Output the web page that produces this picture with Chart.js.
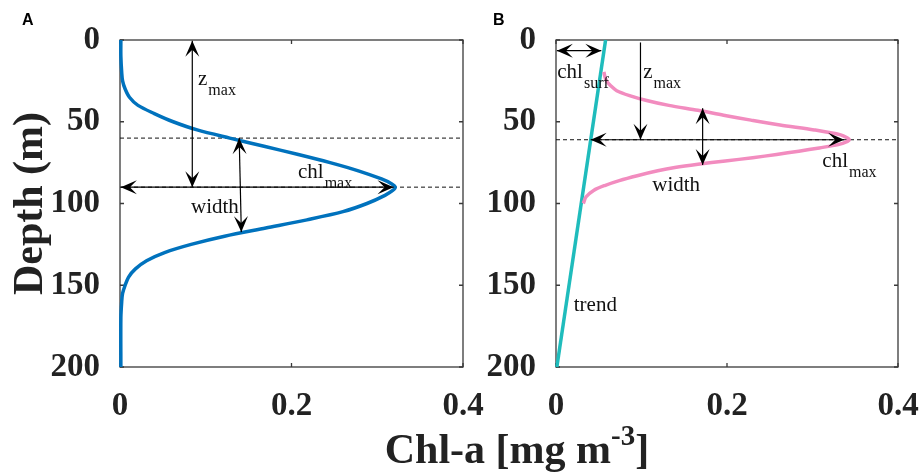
<!DOCTYPE html>
<html>
<head>
<meta charset="utf-8">
<script src="https://cdn.jsdelivr.net/npm/chart.js@4"></script>
<style>
  body { margin: 0; background: #fff; }
  #wrap { position: relative; width: 922px; height: 474px; overflow: hidden; background: #fff; }
  canvas { position: absolute; left: 0; top: 0; }
  .panel { position: absolute; font: bold 16px "Liberation Sans", Arial, sans-serif; line-height: 16px; color: #000; }
  #xtitle { position: absolute; left: 267px; width: 500px; top: 428px; text-align: center;
            font: bold 42px "Liberation Serif", "Times New Roman", serif; line-height: 42px; color: #222; }
  #xtitle sup { font-size: 29px; line-height: 0; vertical-align: 18px; }
</style>
</head>
<body>
<div id="wrap">
  <canvas id="chartA" width="922" height="474"></canvas>
  <canvas id="chartB" width="922" height="474"></canvas>
  <div class="panel" style="left:22px;top:12px">A</div>
  <div class="panel" style="left:493px;top:12px">B</div>
  <div id="xtitle">Chl-a [mg m<sup>-3</sup>]</div>
</div>
<script>
// tick labels
const xTicks = [0, 0.2, 0.4];
const xTickLabels = ['0', '0.2', '0.4'];
const yTicks = [0, 50, 100, 150, 200];
const yTickLabels = ['0', '50', '100', '150', '200'];

// Panel A: chl-a profile (depth in m, chl in mg m-3)
const depthA = [0, 10, 20, 25, 30, 35, 40, 45, 50, 55, 60, 65, 70, 75, 80, 85, 88, 90,
                92, 95, 100, 105, 110, 115, 120, 125, 130, 135, 140, 145, 150, 155, 160, 170, 200];
const chlA = [0.001, 0.001, 0.002, 0.003, 0.006, 0.011, 0.021, 0.040, 0.062, 0.090, 0.128, 0.168,
              0.208, 0.245, 0.278, 0.305, 0.317, 0.321,
              0.318, 0.309, 0.288, 0.260, 0.218, 0.170, 0.122, 0.083, 0.052, 0.031, 0.018, 0.010,
              0.006, 0.003, 0.002, 0.001, 0.001];

// Panel B: profile with trend
const depthB = [19.5, 22, 25, 28, 31, 34, 37, 40, 43, 46, 49, 52, 55, 58, 60, 61, 62, 64, 66, 68,
                70, 72, 74, 76, 78, 80, 83, 86, 89, 92, 96, 100];
const chlB = [0.056, 0.057, 0.059, 0.064, 0.071, 0.086, 0.106, 0.132, 0.166, 0.196, 0.228, 0.262,
              0.302, 0.333, 0.341, 0.343, 0.341, 0.330, 0.308, 0.284,
              0.258, 0.230, 0.198, 0.166, 0.139, 0.119, 0.095, 0.074, 0.057, 0.044, 0.035, 0.032];
const trendDepth = [0, 200];
const trendChl = [0.058, 0.001];

function pts(xs, ys) {
    return ys.map((d, i) => ({ x: xs[i], y: d }));
}

function arrowHead(ctx, x1, y1, x2, y2) {
    const ang = Math.atan2(y2 - y1, x2 - x1);
    ctx.save();
    ctx.translate(x2, y2);
    ctx.rotate(ang);
    ctx.beginPath();
    ctx.moveTo(0, 0);
    ctx.lineTo(-16, -7);
    ctx.lineTo(-9, 0);
    ctx.lineTo(-16, 7);
    ctx.closePath();
    ctx.fill();
    ctx.restore();
}

// box, inward ticks, dashed guides, arrows and labels
const overlay = {
    id: 'overlay',
    beforeDatasetsDraw(chart, args, opts) {
        const { ctx, chartArea: a, scales: { x, y } } = chart;
        ctx.save();
        ctx.strokeStyle = '#3a3a3a';
        ctx.lineWidth = 1.3;
        ctx.strokeRect(a.left, a.top, a.right - a.left, a.bottom - a.top);
        ctx.beginPath();
        xTicks.forEach(v => {
            const px = x.getPixelForValue(v);
            ctx.moveTo(px, a.top); ctx.lineTo(px, a.top + 4);
            ctx.moveTo(px, a.bottom); ctx.lineTo(px, a.bottom - 4);
        });
        yTicks.forEach(v => {
            const py = y.getPixelForValue(v);
            ctx.moveTo(a.left, py); ctx.lineTo(a.left + 4, py);
            ctx.moveTo(a.right, py); ctx.lineTo(a.right - 4, py);
        });
        ctx.stroke();
        ctx.setLineDash([4, 3]);
        ctx.strokeStyle = '#111';
        ctx.lineWidth = 1;
        opts.dashes.forEach(d => {
            const py = y.getPixelForValue(d);
            ctx.beginPath();
            ctx.moveTo(a.left, py);
            ctx.lineTo(a.right, py);
            ctx.stroke();
        });
        ctx.restore();
    },
    afterDatasetsDraw(chart, args, opts) {
        const { ctx, scales: { x, y } } = chart;
        ctx.save();
        ctx.strokeStyle = '#000';
        ctx.fillStyle = '#000';
        ctx.lineWidth = 1.2;
        opts.arrows.forEach(([v1, d1, v2, d2, heads]) => {
            const x1 = x.getPixelForValue(v1), y1 = y.getPixelForValue(d1);
            const x2 = x.getPixelForValue(v2), y2 = y.getPixelForValue(d2);
            ctx.beginPath();
            ctx.moveTo(x1, y1);
            ctx.lineTo(x2, y2);
            ctx.stroke();
            arrowHead(ctx, x1, y1, x2, y2);
            if (heads === 2) arrowHead(ctx, x2, y2, x1, y1);
        });
        ctx.fillStyle = '#111';
        ctx.textBaseline = 'alphabetic';
        opts.notes.forEach(([main, sub, v, d]) => {
            const px = x.getPixelForValue(v), py = y.getPixelForValue(d);
            ctx.font = '21px "Liberation Serif", "Times New Roman", serif';
            ctx.fillText(main, px, py);
            if (sub) {
                const w = ctx.measureText(main).width;
                ctx.font = '16px "Liberation Serif", "Times New Roman", serif';
                ctx.fillText(sub, px + w + 1, py + 10);
            }
        });
        ctx.restore();
    }
};

const tickFont = { family: '"Liberation Serif", "Times New Roman", serif', size: 33, weight: 'bold' };

function makeOptions(pad, showTitle, ann) {
    return {
        responsive: false,
        animation: false,
        layout: { padding: pad },
        plugins: { legend: { display: false }, tooltip: { enabled: false }, overlay: ann },
        scales: {
            x: {
                type: 'linear', min: 0, max: 0.4,
                grid: { display: false }, border: { display: false },
                afterBuildTicks: s => { s.ticks = xTicks.map(v => ({ value: v })); },
                afterFit: s => { s.height = 60; s.paddingLeft = 0; s.paddingRight = 0; },
                ticks: { font: tickFont, color: '#222', padding: 12, maxRotation: 0,
                         callback: (v, i) => xTickLabels[i] }
            },
            y: {
                type: 'linear', min: 0, max: 200, reverse: true,
                grid: { display: false }, border: { display: false },
                afterBuildTicks: s => { s.ticks = yTicks.map(v => ({ value: v })); },
                afterFit: s => { s.width = 120; s.paddingTop = 0; s.paddingBottom = 0; },
                ticks: { font: tickFont, color: '#222', padding: 12,
                         callback: (v, i) => yTickLabels[i] },
                title: { display: showTitle, text: 'Depth (m)', color: '#222',
                         font: { family: '"Liberation Serif", "Times New Roman", serif', size: 42, weight: 'bold' },
                         padding: { top: 6, bottom: 0 } }
            }
        }
    };
}

new Chart(document.getElementById('chartA'), {
    type: 'scatter',
    data: {
        datasets: [{
            data: pts(chlA, depthA), showLine: true, borderColor: '#0072bd', borderWidth: 3.5,
            pointRadius: 0, tension: 0.3, clip: false
        }]
    },
    options: makeOptions({ left: 0, top: 40, right: 459, bottom: 47 }, true, {
        dashes: [60, 90],
        arrows: [[0.0843, 0.5, 0.0843, 90, 2], [0.001, 90, 0.319, 90, 2], [0.139, 60, 0.1415, 117.5, 2]],
        notes: [['z', 'max', 0.091, 27.5], ['chl', 'max', 0.2076, 84.4], ['width', '', 0.0828, 105.8]]
    }),
    plugins: [overlay]
});

new Chart(document.getElementById('chartB'), {
    type: 'scatter',
    data: {
        datasets: [{
            data: pts(chlB, depthB), showLine: true, borderColor: '#f28cbf', borderWidth: 3.5,
            pointRadius: 0, tension: 0.3, clip: false
        }, {
            data: pts(trendChl, trendDepth), showLine: true, borderColor: '#1fbcbc', borderWidth: 3.5,
            pointRadius: 0, tension: 0, clip: false
        }]
    },
    options: makeOptions({ left: 436, top: 40, right: 24, bottom: 47 }, false, {
        dashes: [61],
        arrows: [[0.001, 6.5, 0.053, 6.5, 2], [0.0988, 1.5, 0.0988, 61, 1], [0.0405, 61, 0.337, 61, 2],
                 [0.1715, 41.8, 0.1715, 76.5, 2]],
        notes: [['chl', 'surf', 0.0015, 23.2], ['z', 'max', 0.102, 23.2], ['chl', 'max', 0.3115, 77.5],
                ['width', '', 0.1126, 92.4], ['trend', '', 0.0208, 165.7]]
    }),
    plugins: [overlay]
});
</script>
</body>
</html>
